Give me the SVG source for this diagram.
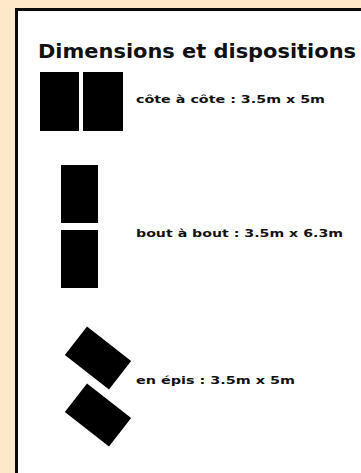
<svg xmlns="http://www.w3.org/2000/svg" width="361" height="473" viewBox="0 0 361 473">
  <style>
    .bg { fill: #fde8c9; }
    .panel { fill: #ffffff; stroke: #0a0a0a; stroke-width: 3; }
    .box { fill: #000000; }
    .title { font-family: "DejaVu Sans Condensed", "Liberation Sans Narrow", "Liberation Sans", sans-serif; font-weight: bold; font-size: 19px; fill: #111111; }
    .lbl { font-family: "DejaVu Sans Condensed", "Liberation Sans Narrow", "Liberation Sans", sans-serif; font-weight: bold; font-size: 11px; fill: #111111; }
  </style>
  <rect class="bg" x="0" y="0" width="361" height="473"/>
  <rect class="panel" x="16.5" y="9.5" width="400" height="500"/>
  <g id="title">
    <text class="title" x="38" y="58" textLength="318" lengthAdjust="spacingAndGlyphs">Dimensions et dispositions</text>
  </g>
  <g id="cote-a-cote">
    <rect class="box" x="40" y="72" width="39" height="59"/>
    <rect class="box" x="83" y="72" width="40" height="59"/>
    <text class="lbl" x="136" y="103" textLength="189" lengthAdjust="spacingAndGlyphs">côte à côte : 3.5m x 5m</text>
  </g>
  <g id="bout-a-bout">
    <rect class="box" x="61" y="165" width="37" height="58"/>
    <rect class="box" x="61" y="230" width="37" height="58"/>
    <text class="lbl" x="136" y="237" textLength="207" lengthAdjust="spacingAndGlyphs">bout à bout : 3.5m x 6.3m</text>
  </g>
  <g id="en-epis">
    <rect class="box" x="-28" y="-18" width="56" height="36" transform="translate(98 358) rotate(38)"/>
    <rect class="box" x="-28" y="-18" width="56" height="36" transform="translate(98 415) rotate(38)"/>
    <text class="lbl" x="136" y="384" textLength="159" lengthAdjust="spacingAndGlyphs">en épis : 3.5m x 5m</text>
  </g>
  <g id="connectors"/>
</svg>
